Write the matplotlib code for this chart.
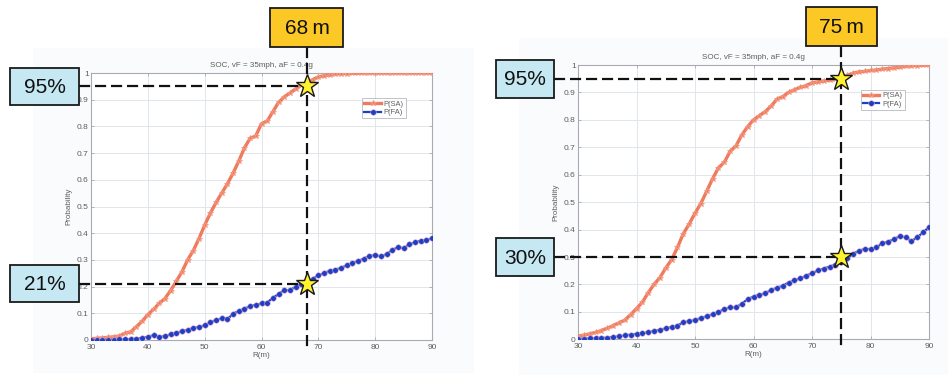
import numpy as np
import matplotlib
matplotlib.use("Agg")
import matplotlib.pyplot as plt
from matplotlib.patches import Rectangle

# ---- data -------------------------------------------------------------
r_m = list(range(30, 91))

sa_left = [0.005, 0.006, 0.008, 0.010, 0.012, 0.015, 0.025, 0.031, 0.050, 0.070,
           0.095, 0.115, 0.137, 0.155, 0.185, 0.220, 0.255, 0.300, 0.335, 0.380,
           0.430, 0.475, 0.515, 0.550, 0.585, 0.625, 0.670, 0.720, 0.755, 0.765,
           0.810, 0.820, 0.855, 0.890, 0.910, 0.925, 0.940, 0.955, 0.965, 0.975,
           0.985, 0.990, 0.993, 0.996, 0.997, 0.998, 0.999, 0.999, 1.0, 1.0,
           1.0, 1.0, 1.0, 1.0, 1.0, 1.0, 1.0, 1.0, 1.0, 1.0, 1.0]
fa_left = [0.000, 0.000, 0.000, 0.000, 0.001, 0.002, 0.002, 0.003, 0.005, 0.008,
           0.012, 0.018, 0.012, 0.014, 0.022, 0.027, 0.033, 0.038, 0.045, 0.049,
           0.055, 0.066, 0.075, 0.081, 0.078, 0.098, 0.109, 0.117, 0.127, 0.132,
           0.137, 0.140, 0.158, 0.172, 0.187, 0.186, 0.200, 0.209, 0.213, 0.228,
           0.243, 0.250, 0.260, 0.264, 0.270, 0.280, 0.289, 0.296, 0.305, 0.315,
           0.318, 0.313, 0.322, 0.336, 0.349, 0.343, 0.358, 0.366, 0.372, 0.375,
           0.381]

sa_right = [0.012, 0.015, 0.020, 0.025, 0.032, 0.040, 0.050, 0.060, 0.070, 0.090,
            0.112, 0.135, 0.170, 0.200, 0.225, 0.260, 0.290, 0.335, 0.385, 0.420,
            0.460, 0.495, 0.540, 0.585, 0.625, 0.645, 0.685, 0.705, 0.745, 0.775,
            0.800, 0.815, 0.830, 0.850, 0.875, 0.885, 0.900, 0.910, 0.918, 0.925,
            0.935, 0.938, 0.942, 0.945, 0.948, 0.952, 0.962, 0.970, 0.975, 0.977,
            0.980, 0.982, 0.985, 0.987, 0.990, 0.992, 0.995, 0.997, 0.998, 0.999,
            1.0]
fa_right = [0.002, 0.002, 0.003, 0.004, 0.005, 0.006, 0.008, 0.011, 0.014, 0.017,
            0.020, 0.022, 0.026, 0.030, 0.035, 0.040, 0.045, 0.050, 0.062, 0.066,
            0.070, 0.078, 0.084, 0.092, 0.100, 0.110, 0.117, 0.116, 0.130, 0.146,
            0.156, 0.162, 0.168, 0.180, 0.188, 0.195, 0.207, 0.215, 0.222, 0.232,
            0.241, 0.251, 0.258, 0.265, 0.272, 0.280, 0.295, 0.312, 0.322, 0.330,
            0.328, 0.335, 0.350, 0.356, 0.365, 0.376, 0.372, 0.358, 0.372, 0.390,
            0.409]

x_ticks = [30, 40, 50, 60, 70, 80, 90]
y_ticks = [0, 0.1, 0.2, 0.3, 0.4, 0.5, 0.6, 0.7, 0.8, 0.9, 1]
y_tick_labels = ["0", "0.1", "0.2", "0.3", "0.4", "0.5", "0.6", "0.7", "0.8", "0.9", "1"]
chart_title = "SOC, vF = 35mph, aF = 0.4g"
series_names = ["P(SA)", "P(FA)"]

# callouts: range threshold and the two probabilities read there
left_range, left_sa_mark, left_fa_mark = 68, 0.95, 0.21
right_range, right_sa_mark, right_fa_mark = 75, 0.95, 0.30

# ---- figure -----------------------------------------------------------
W, H = 948, 375
fig = plt.figure(figsize=(W / 100, H / 100), dpi=100)
fig.patch.set_facecolor("white")

FONT = ["Liberation Sans", "DejaVu Sans"]
plt.rcParams["font.family"] = FONT

# faint backdrop behind each embedded plot
bg = fig.add_axes([0, 0, 1, 1], zorder=-5)
bg.set_xlim(0, W)
bg.set_ylim(H, 0)
bg.axis("off")
bg.add_patch(Rectangle((33, 48), 441, 325, facecolor="#fafbfc", edgecolor="none"))
bg.add_patch(Rectangle((519, 38), 429, 337, facecolor="#fafbfc", edgecolor="none"))

SA_COLOR = "#f07a5c"
FA_COLOR = "#1a40c4"
TXT = "#5e5e5e"


def style_axes(ax, sa, fa, legend_anchor):
    ax.set_facecolor("white")
    ax.plot(r_m, sa, color=SA_COLOR, lw=2.4, marker="*", ms=3.8,
            markerfacecolor=SA_COLOR, markeredgecolor="#f39a82", mew=0.6,
            label=series_names[0], zorder=3)
    ax.plot(r_m, fa, color=FA_COLOR, lw=1.6, marker="o", ms=4.0,
            markerfacecolor=FA_COLOR, markeredgecolor="#e6a0c8", mew=0.4,
            label=series_names[1], zorder=4)
    ax.set_xlim(30, 90)
    ax.set_ylim(0, 1)
    ax.set_xticks(x_ticks)
    ax.set_xticklabels([str(v) for v in x_ticks])
    ax.set_yticks(y_ticks)
    ax.set_yticklabels(y_tick_labels)
    ax.grid(True, color="#e1e6ec", lw=0.7)
    ax.set_axisbelow(True)
    for s in ax.spines.values():
        s.set_color("#a8acb2")
        s.set_linewidth(0.8)
    ax.tick_params(direction="in", length=2.5, width=0.6, color="#a8acb2",
                   labelsize=6, labelcolor=TXT, top=True, right=True)
    ax.tick_params(axis="x", pad=2.6)
    ax.tick_params(axis="y", pad=1.6)
    ax.set_title(chart_title, fontsize=5.8, color=TXT, pad=4)
    ax.set_xlabel("R(m)", fontsize=5.8, color=TXT, labelpad=1)
    ax.set_ylabel("Probability", fontsize=5.8, color=TXT, labelpad=3)
    leg = ax.legend(loc="upper left", bbox_to_anchor=legend_anchor,
                    fontsize=5.4, frameon=True, fancybox=False,
                    handlelength=2.2, borderpad=0.3, labelspacing=0.15,
                    handletextpad=0.4, borderaxespad=0)
    leg.get_frame().set_edgecolor("#b0b4ba")
    leg.get_frame().set_linewidth(0.7)
    for t in leg.get_texts():
        t.set_color(TXT)


ax_l = fig.add_axes([91 / W, 1 - 340 / H, 341 / W, 267 / H])
ax_r = fig.add_axes([578 / W, 1 - 339.3 / H, 351 / W, 274.3 / H])
style_axes(ax_l, sa_left, fa_left, (0.795, 0.905))
style_axes(ax_r, sa_right, fa_right, (0.805, 0.91))

# ---- callout overlay (pixel coordinates, y downward) ------------------
ov = fig.add_axes([0, 0, 1, 1], zorder=10)
ov.set_xlim(0, W)
ov.set_ylim(H, 0)
ov.axis("off")
ov.patch.set_alpha(0)


def to_px(ax, x, y):
    disp = ax.transData.transform((x, y))
    return ov.transData.inverted().transform(disp)


DASH = dict(color="#111111", lw=1.6, linestyle=(0, (5, 2.2)), zorder=11)
BLUE_BOX = "#c6e8f3"
GOLD_BOX = "#fcc826"


def box(x0, y0, w, h, face, text):
    ov.add_patch(Rectangle((x0, y0), w, h, facecolor=face, edgecolor="#1a1a1a",
                           lw=1.3, zorder=12))
    ov.text(x0 + w / 2, y0 + h / 2 + 1, text, ha="center", va="center",
            fontsize=15, color="#111111", family=FONT, zorder=13)


def callouts(ax, xr, p_sa, p_fa, left_box, top_box):
    bx, bw, bh = left_box
    tw, th, ttop = top_box
    sx, sy = to_px(ax, xr, p_sa)
    _, fy = to_px(ax, xr, p_fa)
    _, y_bottom = to_px(ax, xr, 0)
    # vertical guide from the range box down past the x axis
    ov.plot([sx, sx], [ttop + th, y_bottom + 7], **DASH)
    # horizontal guides from the probability boxes to the stars
    ov.plot([bx + bw, sx], [sy, sy], **DASH)
    ov.plot([bx + bw, sx], [fy, fy], **DASH)
    box(bx, sy - bh / 2, bw, bh, BLUE_BOX, f"{round(p_sa * 100)}%")
    box(bx, fy - bh / 2, bw, bh, BLUE_BOX, f"{round(p_fa * 100)}%")
    box(sx - tw / 2, ttop, tw, th, GOLD_BOX, f"{xr}\u2009m")
    for yy in (sy, fy):
        ov.plot([sx], [yy], marker="*", ms=17, markerfacecolor="#fff22e",
                markeredgecolor="#1a1a1a", mew=1.0, zorder=14)


callouts(ax_l, left_range, left_sa_mark, left_fa_mark, (10, 69, 37), (73, 39, 8))
callouts(ax_r, right_range, right_sa_mark, right_fa_mark, (496, 58, 38), (71, 39, 7))

fig.savefig("out.png", dpi=100)
